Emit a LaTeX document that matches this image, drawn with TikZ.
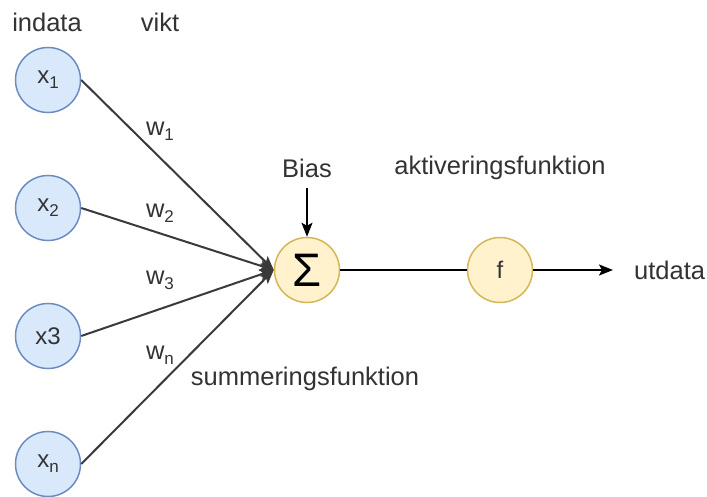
\documentclass[tikz,border=0pt]{standalone}
\usepackage{fontspec}
\setmainfont{Liberation Sans}
\usetikzlibrary{arrows.meta}
\definecolor{txt}{HTML}{333333}
\definecolor{inpfill}{HTML}{DAE8FC}
\definecolor{inpline}{HTML}{6C8EBF}
\definecolor{opfill}{HTML}{FFF2CC}
\definecolor{opline}{HTML}{D6B656}
\definecolor{edge}{HTML}{3A3A3A}
\newcommand{\sub}[1]{\raisebox{-0.38ex}{\fontsize{17}{17}\selectfont #1}}
\tikzset{
  lbl/.style={text=txt, font=\fontsize{25.5}{30}\selectfont, inner sep=0pt},
  inp/.style={circle, draw=inpline, fill=inpfill, line width=1.5pt,
              minimum size=65pt, inner sep=0pt, text=txt,
              font=\fontsize{24}{28}\selectfont},
  op/.style={circle, draw=opline, fill=opfill, line width=1.5pt,
             minimum size=65pt, inner sep=0pt, text=txt,
             font=\fontsize{24}{28}\selectfont},
  inedge/.style={draw=edge, line width=2pt,
                 -{Stealth[length=14pt,width=11pt,inset=3pt]}},
  arr/.style={draw=black, line width=1.6pt,
              -{Stealth[length=14pt,width=11pt,inset=3pt]}},
  plain/.style={draw=black, line width=1.6pt}
}
\begin{document}
\begin{tikzpicture}[x=1pt,y=-1pt]
\path[use as bounding box, fill=white] (0,0) rectangle (707,497);

% column headings
\node[lbl] (hin) at (47,22) {indata};
\node[lbl] (hw) at (160,22) {vikt};

% inputs
\node[inp] (x1) at (48,80) {x\sub{1}};
\node[inp] (x2) at (48,208) {x\sub{2}};
\node[inp] (x3) at (48,336) {x3};
\node[inp] (xn) at (48,464) {x\sub{n}};

% summation and activation
\node[op, text=black, font=\fontsize{47}{50}\selectfont] (s) at (307,270) {Σ};
\node[op] (f) at (500,270) {f};

% labels
\node[lbl] (bias) at (307,168) {Bias};
\node[lbl] (akt) at (500,168) {aktiveringsfunktion};
\node[lbl] (summ) at (305,379) {summeringsfunktion};
\node[lbl, anchor=west] (out) at (634,270) {utdata};

% weights
\node[lbl] (w1) at (160,131) {w\sub{1}};
\node[lbl] (w2) at (160,213) {w\sub{2}};
\node[lbl] (w3) at (160,280) {w\sub{3}};
\node[lbl] (wn) at (160,355) {w\sub{n}};

% connections
\draw[inedge] (x1.east) -- (s.west);
\draw[inedge] (x2.east) -- (s.west);
\draw[inedge] (x3.east) -- (s.west);
\draw[inedge] (xn.east) -- (s.west);
\draw[arr, shorten <=10pt] (bias.south) -- (s.north);
\draw[plain] (s.east) -- (f.west);
\draw[arr, shorten >=21pt] (f.east) -- (out.west);
\end{tikzpicture}
\end{document}
